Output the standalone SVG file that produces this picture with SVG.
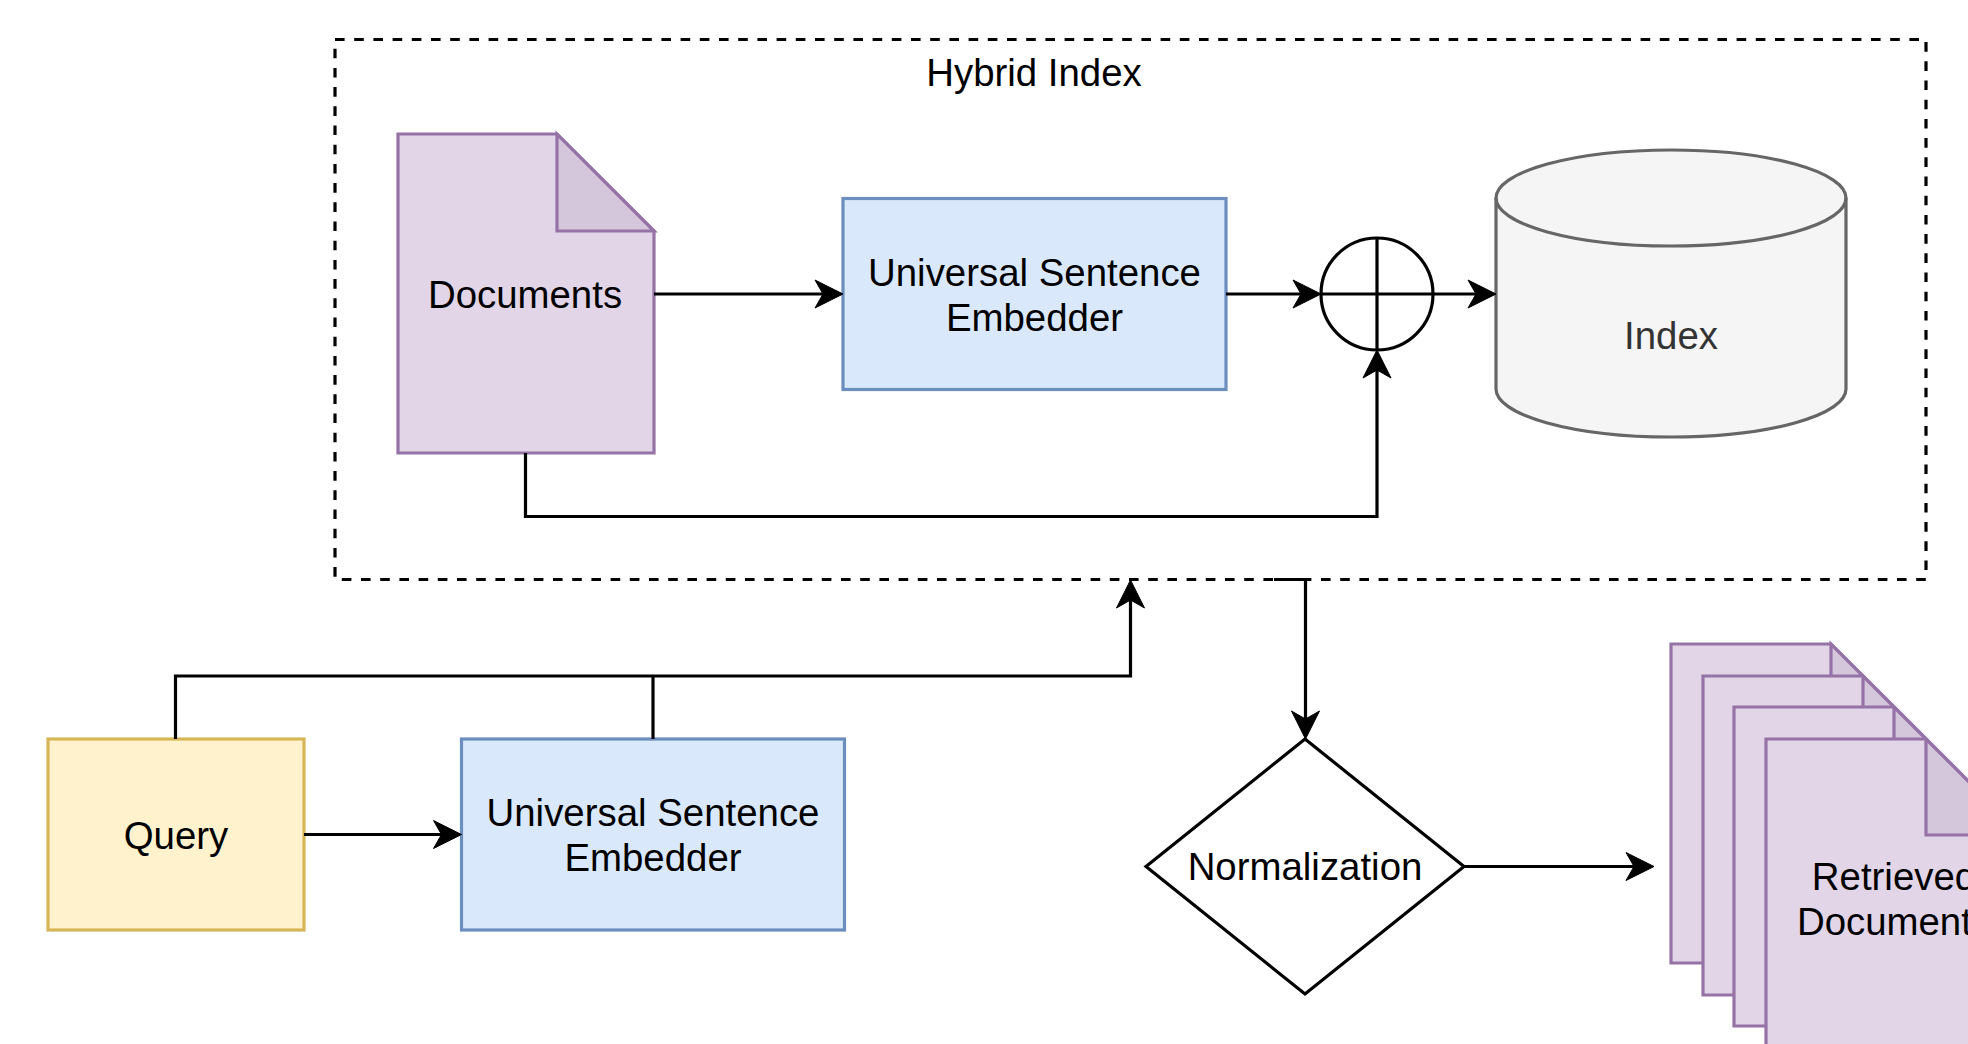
<svg xmlns="http://www.w3.org/2000/svg" xmlns:xlink="http://www.w3.org/1999/xlink" width="1968" height="1044" viewBox="0 0 1968 1044">
<style>
  text { font-family: "Liberation Sans", Arial, Helvetica, sans-serif; font-size: 38.4px; fill: #000; text-anchor: middle; }
  .edge { fill: none; stroke: #000; stroke-width: 3.2; }
  .doc { fill: #e1d5e7; stroke: #9673a6; stroke-width: 3.2; stroke-linejoin: miter; }
  .fold { fill: #d5c7db; stroke: #9673a6; stroke-width: 3.2; }
  .blue { fill: #dae8fc; stroke: #6c8ebf; stroke-width: 3.2; }
  .yellow { fill: #fff2cc; stroke: #d6b656; stroke-width: 3.2; }
  .plain { fill: #fff; stroke: #000; stroke-width: 3.2; }
</style>
<defs>
  <marker id="arrow" markerUnits="userSpaceOnUse" viewBox="-20 -15 32 30" refX="0" refY="0" markerWidth="32" markerHeight="30" orient="auto" overflow="visible">
    <path d="M10,0 L-18,-14 L-10,0 L-18,14 Z" fill="#000" stroke="#000" stroke-width="1" stroke-linejoin="miter"/>
  </marker>
  <g id="docShape">
    <path class="doc" d="M0 0 H160 L256 96 V319 H0 Z"/>
    <path class="fold" d="M160 0 V96 H256 Z"/>
  </g>
</defs>

<g id="hybrid-index">
  <rect x="335" y="39.5" width="1591" height="540" fill="none" stroke="#000" stroke-width="3.2" stroke-dasharray="9.6 9.6"/>
  <text x="1034" y="86">Hybrid Index</text>
</g>

<g id="documents">
  <path class="doc" d="M398 134 H557 L654 231 V453 H398 Z"/>
  <path class="fold" d="M557 134 V231 H654 Z"/>
  <text x="525" y="308">Documents</text>
</g>

<g id="use-top">
  <rect class="blue" x="843" y="198.5" width="383" height="191"/>
  <text x="1034.5" y="285.5">Universal Sentence</text>
  <text x="1034.5" y="330.5">Embedder</text>
</g>

<g id="sum">
  <circle class="plain" cx="1377" cy="294" r="56"/>
  <path d="M1321 294 H1433 M1377 238 V350" stroke="#000" stroke-width="3.2" fill="none"/>
</g>

<g id="index">
  <path d="M1496 198 V389 A175 48 0 0 0 1846 389 V198 A175 48 0 0 0 1496 198 Z" fill="#f5f5f5" stroke="#666666" stroke-width="3.2"/>
  <path d="M1496 198 A175 48 0 0 0 1846 198" fill="none" stroke="#666666" stroke-width="3.2"/>
  <text x="1671" y="349" style="fill:#333333">Index</text>
</g>

<g id="query">
  <rect class="yellow" x="48" y="739" width="256" height="191"/>
  <text x="176" y="848.5">Query</text>
</g>

<g id="use-bottom">
  <rect class="blue" x="461.5" y="739" width="383" height="191"/>
  <text x="653" y="826">Universal Sentence</text>
  <text x="653" y="871">Embedder</text>
</g>

<g id="normalization">
  <path class="plain" d="M1305 739 L1464 866.5 L1305 994 L1146 866.5 Z"/>
  <text x="1305" y="880">Normalization</text>
</g>

<g id="retrieved-documents">
  <use xlink:href="#docShape" href="#docShape" transform="translate(1671 644)"/>
  <use xlink:href="#docShape" href="#docShape" transform="translate(1703 676)"/>
  <use xlink:href="#docShape" href="#docShape" transform="translate(1734 707)"/>
  <use xlink:href="#docShape" href="#docShape" transform="translate(1766 739)"/>
  <text x="1894" y="890">Retrieved</text>
  <text x="1894" y="935">Documents</text>
</g>

<g id="connectors">
  <path class="edge" d="M654 294 H833" marker-end="url(#arrow)"/>
  <path class="edge" d="M1226 294 H1311" marker-end="url(#arrow)"/>
  <path class="edge" d="M1433 294 H1486" marker-end="url(#arrow)"/>
  <path class="edge" d="M525.5 453 V516.5 H1377 V360" marker-end="url(#arrow)"/>
  <path class="edge" d="M304 834.5 H451.5" marker-end="url(#arrow)"/>
  <path class="edge" d="M175.5 739 V676 H1130.5 V590" marker-end="url(#arrow)"/>
  <path class="edge" d="M653 739 V676"/>
  <path class="edge" d="M1274 579.5 H1305.5 V729" marker-end="url(#arrow)"/>
  <path class="edge" d="M1464 866.5 H1644" marker-end="url(#arrow)"/>
</g>
</svg>
